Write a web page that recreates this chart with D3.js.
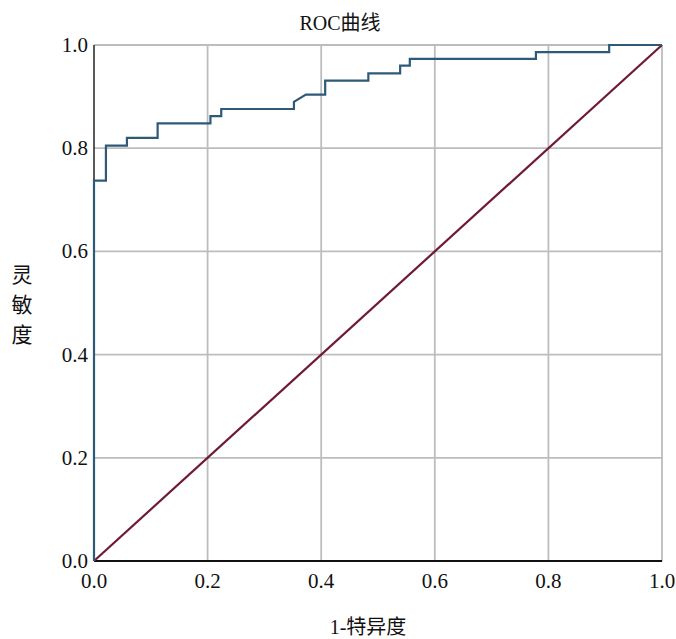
<!DOCTYPE html>
<html>
<head>
<meta charset="utf-8">
<script src="https://cdn.jsdelivr.net/npm/d3@7"></script>
<style>
  body { margin: 0; background: #fff; }
</style>
</head>
<body>
<svg width="676" height="639"></svg>
<script>
const svg = d3.select("svg");
const FONT = "'Liberation Serif', 'Times New Roman', 'DejaVu Serif', 'Noto Sans CJK SC', serif";

// ROC points (1 - specificity, sensitivity)
const fpr = [0, 0, 0.021, 0.021, 0.058, 0.058, 0.112, 0.112, 0.205, 0.205, 0.224, 0.224,
             0.352, 0.352, 0.373, 0.407, 0.407, 0.483, 0.483, 0.539, 0.539, 0.556, 0.556,
             0.778, 0.778, 0.907, 0.907, 1.0];
const tpr = [0, 0.737, 0.737, 0.805, 0.805, 0.820, 0.820, 0.848, 0.848, 0.862, 0.862, 0.876,
             0.876, 0.890, 0.904, 0.904, 0.931, 0.931, 0.945, 0.945, 0.960, 0.960, 0.973,
             0.973, 0.986, 0.986, 1.0, 1.0];
const refLine = [0, 1];
const ticks = [0, 0.2, 0.4, 0.6, 0.8, 1.0];

const x = d3.scaleLinear().domain([0, 1]).range([94, 662]);
const y = d3.scaleLinear().domain([0, 1]).range([561, 45]);

// grid
svg.append("g").selectAll("line")
    .data(ticks.slice(1))
    .enter().append("line")
    .attr("x1", d => x(d)).attr("x2", d => x(d))
    .attr("y1", y(0)).attr("y2", y(1))
    .attr("stroke", "#bdbdbd").attr("stroke-width", 1.8);

svg.append("g").selectAll("line")
    .data(ticks.slice(1))
    .enter().append("line")
    .attr("x1", x(0)).attr("x2", x(1))
    .attr("y1", d => y(d)).attr("y2", d => y(d))
    .attr("stroke", "#bdbdbd").attr("stroke-width", 1.8);

// axis lines
svg.append("line")
    .attr("x1", x(0)).attr("x2", x(1))
    .attr("y1", y(0)).attr("y2", y(0))
    .attr("stroke", "#111").attr("stroke-width", 2.2);
svg.append("line")
    .attr("x1", x(0)).attr("x2", x(0))
    .attr("y1", y(0)).attr("y2", y(1))
    .attr("stroke", "#222").attr("stroke-width", 1.5);

// tick labels
svg.append("g").selectAll("text")
    .data(ticks)
    .enter().append("text")
    .attr("x", 88)
    .attr("y", d => y(d) + 7)
    .attr("text-anchor", "end")
    .attr("font-family", FONT)
    .attr("font-size", 21)
    .attr("fill", "#111")
    .text(d => d.toFixed(1));

svg.append("g").selectAll("text")
    .data(ticks)
    .enter().append("text")
    .attr("x", d => x(d))
    .attr("y", 588)
    .attr("text-anchor", "middle")
    .attr("font-family", FONT)
    .attr("font-size", 21)
    .attr("fill", "#111")
    .text(d => d.toFixed(1));

// reference diagonal
svg.append("line")
    .attr("x1", x(refLine[0])).attr("y1", y(refLine[0]))
    .attr("x2", x(refLine[1])).attr("y2", y(refLine[1]))
    .attr("stroke", "#6e1a33").attr("stroke-width", 2.2);

// ROC curve
const rocData = fpr.map((f, i) => [f, tpr[i]]);
svg.append("path")
    .datum(rocData)
    .attr("fill", "none")
    .attr("stroke", "#2e5a78")
    .attr("stroke-width", 2.2)
    .attr("d", d3.line().x(d => x(d[0])).y(d => y(d[1])));

// titles
svg.append("text")
    .attr("x", 340).attr("y", 30)
    .attr("text-anchor", "middle")
    .attr("font-family", FONT)
    .attr("font-size", 20)
    .attr("fill", "#111")
    .text("ROC曲线");

svg.append("text")
    .attr("x", 368).attr("y", 634)
    .attr("text-anchor", "middle")
    .attr("font-family", FONT)
    .attr("font-size", 20)
    .attr("fill", "#111")
    .text("1-特异度");

svg.append("g").selectAll("text")
    .data(["灵", "敏", "度"])
    .enter().append("text")
    .attr("x", 22)
    .attr("y", (d, i) => 282 + i * 30)
    .attr("text-anchor", "middle")
    .attr("font-family", FONT)
    .attr("font-size", 21)
    .attr("fill", "#111")
    .text(d => d);
</script>
</body>
</html>
